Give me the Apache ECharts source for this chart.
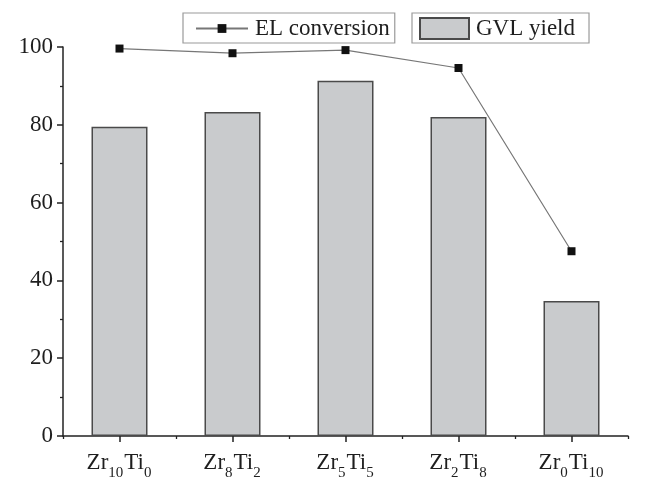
<!DOCTYPE html>
<html><head><meta charset="utf-8">
<script src="https://cdn.jsdelivr.net/npm/echarts@6/dist/echarts.min.js"></script>
<style>html,body{margin:0;padding:0;background:#fff}#c{width:665px;height:489px}</style>
</head><body><div id="c"></div>
<script>
const categories = ['Zr10Ti0', 'Zr8Ti2', 'Zr5Ti5', 'Zr2Ti8', 'Zr0Ti10'];
const elConversion = [99.6, 98.4, 99.2, 94.6, 47.5];
const gvlYield = [79.5, 83.3, 91.3, 82.0, 34.7];
const yTicks = [0, 20, 40, 60, 80, 100];

const font = 'Liberation Serif';
const txt = '#1e1e1e';
const chart = echarts.init(document.getElementById('c'));
chart.setOption({
  backgroundColor: '#ffffff',
  animation: false,
  legend: [
    {
      data: ['EL conversion'], left: 183, top: 13,
      borderColor: '#9a9a9a', borderWidth: 1.2, padding: [4, 5, 3, 12],
      itemWidth: 52, itemHeight: 11, itemGap: 4,
      textStyle: { fontFamily: font, fontSize: 23, color: txt, padding: [0, 0, 0, 2] }
    },
    {
      data: [{ name: 'GVL yield', icon: 'rect' }], left: 412, top: 13,
      borderColor: '#9a9a9a', borderWidth: 1.2, padding: [4, 14, 3, 7],
      itemWidth: 49, itemHeight: 21, itemGap: 4,
      textStyle: { fontFamily: font, fontSize: 23, color: txt, padding: [0, 0, 0, 2] }
    }
  ],
  grid: { left: 63, right: 37, top: 47, bottom: 53, containLabel: false },
  xAxis: [
    {
      type: 'category', data: categories, boundaryGap: true,
      axisLine: { lineStyle: { color: '#222', width: 1.5 } },
      axisTick: { show: true, alignWithLabel: true, length: 6, lineStyle: { color: '#222', width: 1.5 } },
      axisLabel: {
        interval: 0, margin: 15, color: txt, fontFamily: font,
        formatter: function (v) {
          const m = v.match(/^Zr(\d+)Ti(\d+)$/);
          return '{a|Zr}{s|' + m[1] + '}{a|Ti}{s|' + m[2] + '}';
        },
        rich: {
          a: { fontFamily: font, fontSize: 23, color: txt, lineHeight: 30, verticalAlign: 'top' },
          s: { fontFamily: font, fontSize: 15, color: txt, lineHeight: 30, verticalAlign: 'bottom', padding: [16, 1, 0, 0] }
        }
      },
      splitLine: { show: false }
    },
    {
      type: 'category', data: categories, boundaryGap: true, position: 'bottom',
      axisLine: { show: false },
      axisTick: { show: true, alignWithLabel: false, length: 3, lineStyle: { color: '#222', width: 1.3 } },
      axisLabel: { show: false },
      splitLine: { show: false }
    }
  ],
  yAxis: {
    type: 'value', min: 0, max: 100, interval: 20,
    axisLine: { show: true, lineStyle: { color: '#222', width: 1.5 } },
    axisTick: { show: true, length: 6, lineStyle: { color: '#222', width: 1.5 } },
    minorTick: { show: true, splitNumber: 2, length: 3, lineStyle: { color: '#222', width: 1.3 } },
    axisLabel: {
      margin: 10, color: txt, fontFamily: font, fontSize: 23,
      formatter: function (v) { return yTicks.indexOf(v) >= 0 ? String(v) : ''; }
    },
    splitLine: { show: false }
  },
  series: [
    {
      name: 'GVL yield', type: 'bar', data: gvlYield, barWidth: 56, z: 1,
      itemStyle: { color: '#c9cbcd', borderColor: '#4a4a4a', borderWidth: 1.5 }
    },
    {
      name: 'EL conversion', type: 'line', data: elConversion, z: 3,
      symbol: 'rect', symbolSize: 8,
      lineStyle: { color: '#777', width: 1.2 },
      itemStyle: { color: '#111' }
    }
  ]
});
</script></body></html>
